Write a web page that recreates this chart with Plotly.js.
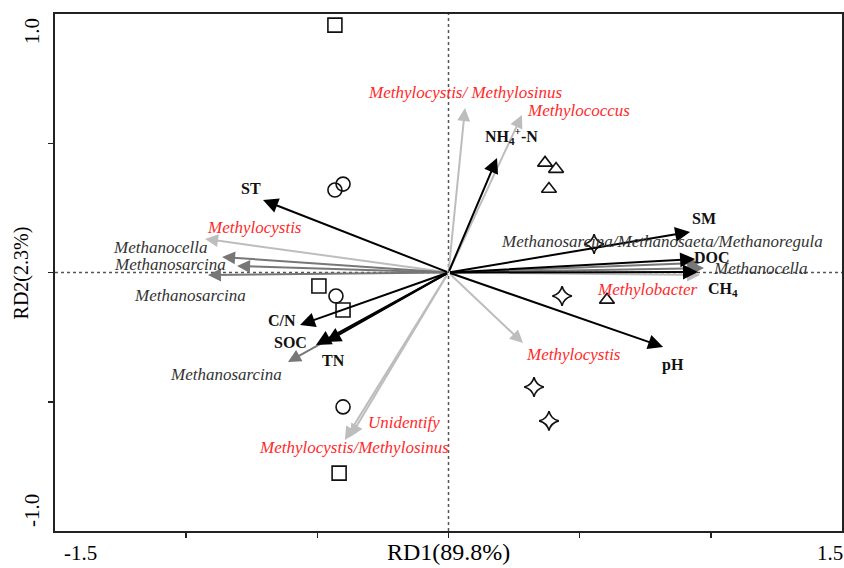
<!DOCTYPE html>
<html>
<head>
<meta charset="utf-8">
<script src="https://cdn.plot.ly/plotly-3.0.1.min.js"></script>
<style>html,body{margin:0;padding:0;background:#fff;}#chart{width:844px;height:568px;}</style>
</head>
<body>
<div id="chart"></div>
<script>
// ---- Sample scores ----
const squareX = [-0.433, -0.494, -0.402, -0.417];
const squareY = [0.957, -0.052, -0.145, -0.776];
const circleX = [-0.433, -0.402, -0.429, -0.402];
const circleY = [0.319, 0.342, -0.091, -0.520];
const triangleX = [0.368, 0.410, 0.383, 0.604];
const triangleY = [0.424, 0.400, 0.323, -0.106];
const starX = [0.555, 0.433, 0.326, 0.383];
const starY = [0.110, -0.091, -0.443, -0.574];

// ---- Environmental variables (black arrows) ----
const envNames = ['ST', 'SM', 'DOC', 'CH<sub>4</sub>', 'pH', 'NH<sub>4</sub><sup>+</sup>-N', 'C/N', 'SOC', 'TN'];
const envX = [-0.707, 0.921, 0.940, 0.951, 0.818, 0.185, -0.566, -0.505, -0.467];
const envY = [0.280, 0.157, 0.052, 0.002, -0.288, 0.443, -0.203, -0.280, -0.269];

// ---- Methanotrophs (light grey arrows, red labels) ----
const mtNames = ['Methylocystis/ Methylosinus', 'Methylococcus', 'Methylocystis', 'Methylocystis', 'Methylobacter', 'Unidentify', 'Methylocystis/Methylosinus'];
const mtX = [0.063, 0.280, -0.928, 0.284, 0.959, -0.375, -0.395];
const mtY = [0.636, 0.609, 0.130, -0.273, -0.010, -0.636, -0.648];

// ---- Methanogens (dark grey arrows, dark labels) ----
const mgNames = ['Methanocella', 'Methanosarcina', 'Methanosarcina', 'Methanosarcina', 'Methanosarcina/Methanosaeta/Methanoregula', 'Methanocella'];
const mgX = [-0.863, -0.806, -0.917, -0.612, 0.959, 0.974];
const mgY = [0.060, 0.025, -0.010, -0.346, 0.037, 0.017];

// ---- Axis end labels ----
const xEndLabels = ['-1.5', '1.5'];
const yEndLabels = ['1.0', '-1.0'];

// ---- Label offsets in pixels (style) ----
const envShift = [[-12,12],[14,13],[17,2],[25,-18],[10,-18],[14,22],[-18,4],[-26,2],[8,-18]];
const mtShift = [[0,16],[57,5],[49,11],[50,-11],[-53,-14],[54,14],[9,-7]];
const mgShift = [[-62,9],[-67,2],[-18,-20],[-62,-13],[-38,21],[56,0]];

const SERIF = '"Liberation Serif", "Times New Roman", serif';
const annotations = [];

function addArrows(xs, ys, color, width, size) {
  for (let i = 0; i < xs.length; i++) {
    annotations.push({
      x: xs[i], y: ys[i], ax: 0, ay: 0,
      xref: 'x', yref: 'y', axref: 'x', ayref: 'y',
      text: '', showarrow: true, arrowhead: 2, arrowsize: size,
      arrowwidth: width, arrowcolor: color, standoff: 0, startstandoff: 0
    });
  }
}
function addLabels(names, xs, ys, shifts, font) {
  for (let i = 0; i < names.length; i++) {
    annotations.push({
      x: xs[i], y: ys[i], xref: 'x', yref: 'y',
      text: names[i], showarrow: false,
      xshift: shifts[i][0], yshift: shifts[i][1],
      xanchor: 'center', yanchor: 'middle', font: font
    });
  }
}

addArrows(mtX, mtY, '#bdbdbd', 2, 1.3);
addArrows(mgX, mgY, '#777777', 2, 1.3);
addArrows(envX, envY, '#000000', 2, 1.5);

addLabels(mtNames.map(s => '<i>' + s + '</i>'), mtX, mtY, mtShift, {family: SERIF, size: 17, color: '#ff2a2a'});
addLabels(mgNames.map(s => '<i>' + s + '</i>'), mgX, mgY, mgShift, {family: SERIF, size: 17, color: '#333333'});
addLabels(envNames.map(s => '<b>' + s + '</b>'), envX, envY, envShift, {family: SERIF, size: 16, color: '#111111'});

// Axis end labels and titles
const tickFont = {family: SERIF, size: 21, color: '#000'};
annotations.push({xref:'paper', yref:'paper', x:0.032, y:-0.042, text:xEndLabels[0], showarrow:false, font:tickFont, xanchor:'center', yanchor:'middle'});
annotations.push({xref:'paper', yref:'paper', x:0.985, y:-0.042, text:xEndLabels[1], showarrow:false, font:tickFont, xanchor:'center', yanchor:'middle'});
annotations.push({xref:'paper', yref:'paper', x:-0.029, y:0.967, text:yEndLabels[0], textangle:-90, showarrow:false, font:tickFont, xanchor:'center', yanchor:'middle'});
annotations.push({xref:'paper', yref:'paper', x:-0.029, y:0.039, text:yEndLabels[1], textangle:-90, showarrow:false, font:tickFont, xanchor:'center', yanchor:'middle'});
annotations.push({xref:'paper', yref:'paper', x:-0.042, y:0.5, text:'RD2(2.3%)', textangle:-90, showarrow:false, font:{family: SERIF, size: 20, color: '#000'}, xanchor:'center', yanchor:'middle'});
annotations.push({xref:'paper', yref:'paper', x:0.5, y:-0.04, text:'RD1(89.8%)', showarrow:false, font:{family: SERIF, size: 24, color: '#000'}, xanchor:'center', yanchor:'middle'});

const markerLine = {color: '#111', width: 1.6};
const traces = [
  {x: squareX, y: squareY, type: 'scatter', mode: 'markers', marker: {symbol: 'square-open', size: 14, color: '#111', line: markerLine}},
  {x: circleX, y: circleY, type: 'scatter', mode: 'markers', marker: {symbol: 'circle-open', size: 14, color: '#111', line: markerLine}},
  {x: triangleX, y: triangleY, type: 'scatter', mode: 'markers', marker: {symbol: 'triangle-up-open', size: 13, color: '#111', line: markerLine}},
  {x: starX, y: starY, type: 'scatter', mode: 'markers', marker: {symbol: 'star-diamond-open', size: 14, color: '#111', line: markerLine}}
];

const layout = {
  width: 844, height: 568,
  margin: {l: 55, r: 2, t: 14, b: 37},
  paper_bgcolor: '#fff', plot_bgcolor: '#fff',
  showlegend: false, hovermode: false,
  xaxis: {
    range: [-1.5, 1.5], showgrid: false, zeroline: false,
    showline: true, linecolor: '#222', linewidth: 2, mirror: true,
    tickvals: [-1.0, -0.5, 0, 0.5, 1.0], ticktext: ['', '', '', '', ''],
    ticks: 'outside', ticklen: 5, tickwidth: 1.5, tickcolor: '#222'
  },
  yaxis: {
    range: [-1.0, 1.0], showgrid: false, zeroline: false,
    showline: true, linecolor: '#222', linewidth: 2, mirror: true,
    tickvals: [-0.5, 0, 0.5], ticktext: ['', '', ''],
    ticks: 'outside', ticklen: 5, tickwidth: 1.5, tickcolor: '#222'
  },
  shapes: [
    {type: 'line', xref: 'x', yref: 'y', x0: 0, x1: 0, y0: -1, y1: 1, line: {color: '#555', width: 1.5, dash: 'dot'}, layer: 'below'},
    {type: 'line', xref: 'x', yref: 'y', x0: -1.5, x1: 1.5, y0: 0, y1: 0, line: {color: '#555', width: 1.5, dash: 'dot'}, layer: 'below'}
  ],
  annotations: annotations
};

Plotly.newPlot('chart', traces, layout, {displayModeBar: false, staticPlot: true});
</script>
</body>
</html>
